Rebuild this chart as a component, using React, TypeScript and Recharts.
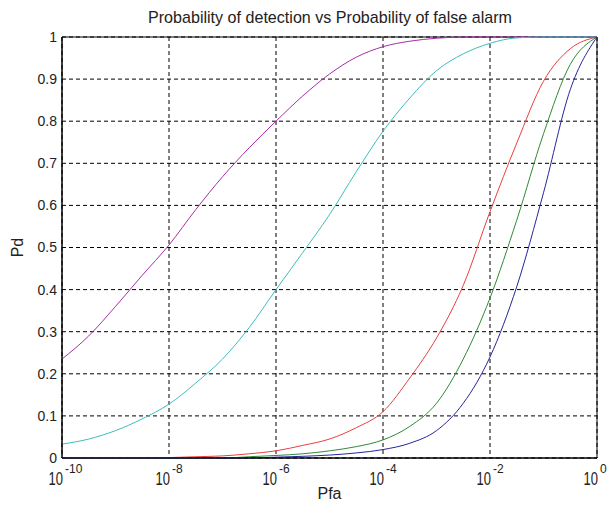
import React from 'react';
import { LineChart, Line, XAxis, YAxis, CartesianGrid, ReferenceArea, Label } from 'recharts';

// log10(Pfa) sample positions
const pfaExp = [-10, -9.5, -9, -8.5, -8, -7.5, -7, -6.5, -6, -5.5, -5, -4.5, -4, -3.5, -3, -2.5, -2, -1.5, -1, -0.5, 0];

const pdMagenta = [0.235, 0.29, 0.36, 0.434, 0.506, 0.59, 0.668, 0.737, 0.8, 0.86, 0.912, 0.952, 0.977, 0.99, 0.997, 1, 1, 1, 1, 1, 1];
const pdCyan = [0.033, 0.045, 0.065, 0.093, 0.128, 0.178, 0.235, 0.31, 0.4, 0.488, 0.578, 0.68, 0.776, 0.855, 0.92, 0.96, 0.985, 0.998, 1, 1, 1];
const pdRed = [0, 0, 0, 0, 0.001, 0.003, 0.005, 0.01, 0.017, 0.03, 0.045, 0.072, 0.11, 0.19, 0.285, 0.41, 0.585, 0.748, 0.895, 0.972, 1];
const pdGreen = [0, 0, 0, 0, 0, 0, 0, 0.003, 0.006, 0.01, 0.017, 0.027, 0.043, 0.075, 0.13, 0.235, 0.38, 0.565, 0.77, 0.935, 1];
const pdBlue = [0, 0, 0, 0, 0, 0, 0, 0, 0.002, 0.004, 0.007, 0.012, 0.02, 0.035, 0.065, 0.13, 0.24, 0.407, 0.63, 0.875, 1];

const xTickExp = [-10, -8, -6, -4, -2, 0];
const yTicks = [0, 0.1, 0.2, 0.3, 0.4, 0.5, 0.6, 0.7, 0.8, 0.9, 1];

const titleText = 'Probability of detection vs Probability of false alarm';

const data = pfaExp.map((e, i) => ({
  pfa: Math.pow(10, e),
  magenta: pdMagenta[i],
  cyan: pdCyan[i],
  red: pdRed[i],
  green: pdGreen[i],
  blue: pdBlue[i],
}));

const FONT = '"Liberation Sans", Arial, sans-serif';
const TEXT = '#222';

const XTick = (props: any) => {
  const { x, y, payload } = props;
  const exp = Math.round(Math.log10(payload.value));
  return (
    <g>
      <g transform={`translate(${x + 1}, ${y + 21}) scale(0.72, 1)`}>
        <text x={0} y={0} textAnchor="end" fontSize={18} fill={TEXT} fontFamily={FONT}>
          10
        </text>
      </g>
      <text x={x + 3} y={y + 9} textAnchor="start" fontSize={12} fill={TEXT} fontFamily={FONT}>
        {String(exp)}
      </text>
    </g>
  );
};

export default function App() {
  return (
    <div style={{ position: 'absolute', left: 0, top: 0, width: 609, height: 506, background: '#fff' }}>
      <LineChart
        width={609}
        height={506}
        data={data}
        margin={{ top: 37, right: 12, bottom: 0, left: 22 }}
        style={{ position: 'absolute', left: 0, top: 0 }}
      >
        <CartesianGrid stroke="#000" strokeDasharray="4 3" horizontalValues={yTicks} />
        <XAxis
          dataKey="pfa"
          type="number"
          scale="log"
          domain={[1e-10, 1]}
          ticks={xTickExp.map((e) => Math.pow(10, e))}
          allowDataOverflow
          height={48}
          axisLine={{ stroke: '#000' }}
          tickLine={false}
          tickSize={4}
          tick={<XTick />}
          interval={0}
        >
          <Label
            content={(p: any) => {
              const vb = p.viewBox || { x: 62, y: 458, width: 535 };
              return (
                <text
                  x={vb.x + vb.width / 2}
                  y={vb.y + 41}
                  textAnchor="middle"
                  fontSize={16}
                  fill={TEXT}
                  fontFamily={FONT}
                >
                  Pfa
                </text>
              );
            }}
          />
        </XAxis>
        <YAxis
          type="number"
          domain={[0, 1]}
          ticks={yTicks}
          width={40}
          axisLine={{ stroke: '#000' }}
          tickLine={false}
          tickSize={2}
          tickMargin={3}
          interval={0}
          tick={{ fontSize: 14, fill: TEXT, fontFamily: FONT }}
          tickFormatter={(v: number) => String(v)}
        >
          <Label
            content={(p: any) => {
              const vb = p.viewBox || { x: 22, y: 37, height: 421 };
              const cx = 23;
              const cy = vb.y + vb.height / 2;
              return (
                <text
                  x={cx}
                  y={cy}
                  transform={`rotate(-90 ${cx} ${cy})`}
                  textAnchor="middle"
                  fontSize={16}
                  fill={TEXT}
                  fontFamily={FONT}
                >
                  Pd
                </text>
              );
            }}
          />
        </YAxis>
        <ReferenceArea x1={1e-10} x2={1} y1={0} y2={1} fill="none" stroke="#000" strokeWidth={1} ifOverflow="visible" />
        <Line type="monotone" dataKey="magenta" stroke="#a52fa5" strokeWidth={1} dot={false} isAnimationActive={false} />
        <Line type="monotone" dataKey="cyan" stroke="#3fbcbc" strokeWidth={1} dot={false} isAnimationActive={false} />
        <Line type="monotone" dataKey="red" stroke="#e8403f" strokeWidth={1} dot={false} isAnimationActive={false} />
        <Line type="monotone" dataKey="green" stroke="#2f8a35" strokeWidth={1} dot={false} isAnimationActive={false} />
        <Line type="monotone" dataKey="blue" stroke="#25259a" strokeWidth={1} dot={false} isAnimationActive={false} />
      </LineChart>
      <svg width={609} height={40} style={{ position: 'absolute', left: 0, top: 0, pointerEvents: 'none' }}>
        <text
          x={330}
          y={23}
          textAnchor="middle"
          fontSize={17}
          textLength={364}
          lengthAdjust="spacingAndGlyphs"
          fill={TEXT}
          fontFamily={FONT}
        >
          {titleText}
        </text>
      </svg>
    </div>
  );
}
